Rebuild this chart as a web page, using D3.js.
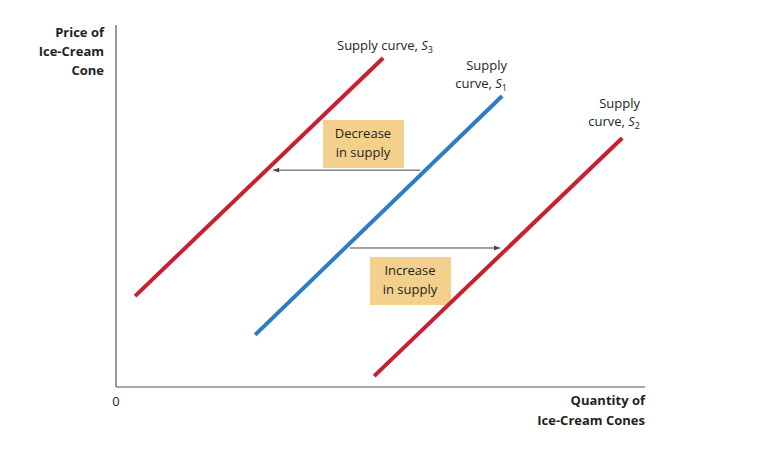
<!DOCTYPE html>
<html><head><meta charset="utf-8">
<script src="https://cdn.jsdelivr.net/npm/d3@7"></script>
<style>
body{margin:0;background:#fff;}
text{font-family:"Liberation Sans Narrow","Open Sans",sans-serif;fill:#231f20;}
</style></head>
<body><div id="chart"></div>
<script>
// data in axis units (0-100)
const curveNames = ["S3", "S1", "S2"];
const curveStart = [[3.6, 25.1], [26.3, 14.4], [48.8, 3.0]];
const curveEnd = [[50.5, 90.9], [73.0, 80.4], [95.7, 68.8]];
const curveColors = ["#c8202f", "#2e7cc4", "#c8202f"];
const shiftLabels = [["Decrease", "in supply"], ["Increase", "in supply"]];
const shiftY = [59.9, 38.4];
const shiftFrom = [57.5, 44.2];
const shiftTo = [29.7, 72.6];

const width = 763, height = 457;
const svg = d3.select("#chart").append("svg").attr("width", width).attr("height", height);
const x = d3.scaleLinear().domain([0, 100]).range([116, 645]);
const y = d3.scaleLinear().domain([0, 100]).range([387, 25]);

svg.append("defs").append("marker")
    .attr("id", "arr").attr("viewBox", "0 0 10 10").attr("refX", 10).attr("refY", 5)
    .attr("markerWidth", 8).attr("markerHeight", 6).attr("orient", "auto")
    .append("path").attr("d", "M0,1 L10,5 L0,9 Z").attr("fill", "#444");

// axes
svg.append("line").attr("x1", x(0)).attr("x2", x(100)).attr("y1", y(0)).attr("y2", y(0)).attr("stroke", "#555").attr("stroke-width", 1.2);
svg.append("line").attr("x1", x(0)).attr("x2", x(0)).attr("y1", y(0)).attr("y2", y(100)).attr("stroke", "#555").attr("stroke-width", 1.2);
svg.append("text").attr("x", x(0)).attr("y", 406).attr("text-anchor", "middle").style("font-size", "13px").text("0");

svg.append("text").attr("text-anchor", "end").style("font-size", "13px").style("font-weight", "bold")
    .selectAll("tspan").data(["Price of", "Ice-Cream", "Cone"]).enter().append("tspan")
    .attr("x", 104).attr("y", (d, i) => 37 + i * 19).text(d => d);
svg.append("text").attr("text-anchor", "end").style("font-size", "13px").style("font-weight", "bold")
    .selectAll("tspan").data(["Quantity of", "Ice-Cream Cones"]).enter().append("tspan")
    .attr("x", 645).attr("y", (d, i) => 405 + i * 20).text(d => d);

// shift arrows + boxes
const boxes = [[323, 120], [370, 257]];
shiftY.forEach((v, i) => {
    svg.append("line").attr("x1", x(shiftFrom[i])).attr("x2", x(shiftTo[i]))
        .attr("y1", y(v)).attr("y2", y(v)).attr("stroke", "#444").attr("stroke-width", 1)
        .attr("marker-end", "url(#arr)");
    svg.append("rect").attr("x", boxes[i][0]).attr("y", boxes[i][1]).attr("width", 81).attr("height", 48).attr("fill", "#f3d08b");
    svg.append("text").attr("text-anchor", "middle").style("font-size", "13px")
        .selectAll("tspan").data(shiftLabels[i]).enter().append("tspan")
        .attr("x", boxes[i][0] + 40).attr("y", (d, j) => boxes[i][1] + 18 + j * 19).text(d => d);
});

// curves
curveNames.forEach((n, i) => {
    svg.append("line").attr("x1", x(curveStart[i][0])).attr("y1", y(curveStart[i][1]))
        .attr("x2", x(curveEnd[i][0])).attr("y2", y(curveEnd[i][1]))
        .attr("stroke", curveColors[i]).attr("stroke-width", 4);
});

// curve labels
function label(lines, xx, yy, anchor) {
    const t = svg.append("text").attr("text-anchor", anchor).style("font-size", "13px");
    lines.forEach((l, j) => {
        const ts = t.append("tspan").attr("x", xx).attr("y", yy + j * 18).text(l[0]);
        ts.append("tspan").style("font-style", "italic").text(l[1]);
        ts.append("tspan").style("font-size", "9px").attr("dy", 3).text(l[2]);
    });
}
label([["Supply curve, ", "S", "3"]], 385, 50, "middle");
label([["Supply", "", ""], ["curve, ", "S", "1"]], 507, 70, "end");
label([["Supply", "", ""], ["curve, ", "S", "2"]], 640, 108, "end");
</script></body></html>
